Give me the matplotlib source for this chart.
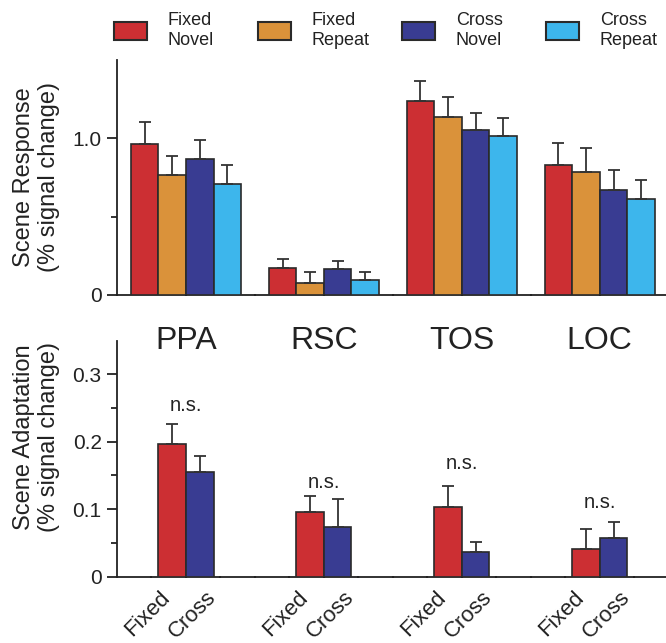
import numpy as np
import matplotlib
matplotlib.use('Agg')
import matplotlib.pyplot as plt
from matplotlib.patches import Patch
from matplotlib.ticker import MultipleLocator, FixedLocator

plt.rcParams['font.family'] = ['Liberation Sans', 'DejaVu Sans']
plt.rcParams['text.color'] = '#222222'
plt.rcParams['axes.labelcolor'] = '#222222'
plt.rcParams['xtick.color'] = '#222222'
plt.rcParams['ytick.color'] = '#222222'

# data
regions = ['PPA', 'RSC', 'TOS', 'LOC']
conditions = ['Fixed\nNovel', 'Fixed\nRepeat', 'Cross\nNovel', 'Cross\nRepeat']
colours = ['#CC2F33', '#DA923A', '#393C92', '#3DB6EC']

fixed_novel = [0.96, 0.174, 1.238, 0.826]
fixed_repeat = [0.764, 0.076, 1.134, 0.786]
cross_novel = [0.864, 0.168, 1.053, 0.671]
cross_repeat = [0.709, 0.097, 1.015, 0.614]
fixed_novel_err = [0.14, 0.057, 0.127, 0.14]
fixed_repeat_err = [0.123, 0.07, 0.129, 0.15]
cross_novel_err = [0.123, 0.05, 0.108, 0.123]
cross_repeat_err = [0.121, 0.049, 0.112, 0.118]

adapt_fixed = [0.196, 0.096, 0.103, 0.041]
adapt_cross = [0.155, 0.073, 0.037, 0.058]
adapt_fixed_err = [0.031, 0.024, 0.032, 0.029]
adapt_cross_err = [0.024, 0.042, 0.015, 0.023]
ns_y = [0.254, 0.14, 0.168, 0.11]
adapt_labels = ['Fixed', 'Cross']

edge = '#2a2a2a'
W, H = 666, 643
fig = plt.figure(figsize=(W / 100, H / 100), dpi=100)

def px_axes(x0, x1, ytop, ybot):
    return fig.add_axes([x0 / W, 1 - ybot / H, (x1 - x0) / W, (ybot - ytop) / H])

ax1 = px_axes(117, 666, 59.5, 295)
ax2 = px_axes(117, 666, 340.5, 576.7)

x = np.arange(len(regions))
bw = 0.2
ekw = dict(ecolor='#333333', elinewidth=1.3, capsize=4, capthick=1.3)

def style(ax):
    for s in ['top', 'right']:
        ax.spines[s].set_visible(False)
    for s in ['left', 'bottom']:
        ax.spines[s].set_linewidth(1.3)
        ax.spines[s].set_color('#222222')
    ax.tick_params(axis='y', which='major', length=7, width=1.3, labelsize=15, pad=4)
    ax.tick_params(axis='y', which='minor', length=4, width=1.3)
    ax.tick_params(axis='x', which='both', length=2, width=1.5, direction='inout')
    ax.set_xlim(-0.5, 3.48)

# top panel
series = [fixed_novel, fixed_repeat, cross_novel, cross_repeat]
errs = [fixed_novel_err, fixed_repeat_err, cross_novel_err, cross_repeat_err]
for i, (vals, e) in enumerate(zip(series, errs)):
    ax1.bar(x + (i - 1.5) * bw, vals, bw, color=colours[i], edgecolor=edge, linewidth=1.2,
            yerr=[np.zeros(4), e], error_kw=ekw, zorder=3)
style(ax1)
ax1.set_ylim(0, 1.5)
ax1.yaxis.set_major_locator(FixedLocator([0, 1.0]))
ax1.set_yticklabels(['0', '1.0'])
ax1.yaxis.set_minor_locator(FixedLocator([0.5]))
ax1.xaxis.set_major_locator(MultipleLocator(0.5))
ax1.set_xticklabels([])
ax1.set_ylabel('Scene Response\n(% signal change)', fontsize=17)
ax1.yaxis.set_label_coords(-0.104, 0.5)

# bottom panel
ax2.bar(x - bw / 2, adapt_fixed, bw, color=colours[0], edgecolor=edge, linewidth=1.2,
        yerr=[np.zeros(4), adapt_fixed_err], error_kw=ekw, zorder=3)
ax2.bar(x + bw / 2, adapt_cross, bw, color=colours[2], edgecolor=edge, linewidth=1.2,
        yerr=[np.zeros(4), adapt_cross_err], error_kw=ekw, zorder=3)
style(ax2)
ax2.set_ylim(0, 0.35)
ax2.yaxis.set_major_locator(FixedLocator([0, 0.1, 0.2, 0.3]))
ax2.set_yticklabels(['0', '0.1', '0.2', '0.3'])
ax2.yaxis.set_minor_locator(FixedLocator([0.05, 0.15, 0.25]))
ax2.xaxis.set_minor_locator(MultipleLocator(0.25))
# label centres sit a little left of the bars, as in the original
ticks = np.concatenate([x - 0.28, x + 0.05])
ax2.set_xticks(ticks)
ax2.set_xticklabels([adapt_labels[0]] * 4 + [adapt_labels[1]] * 4, rotation=45, ha='center', va='center',
                    rotation_mode='anchor', fontsize=16)
ax2.tick_params(axis='x', which='major', length=0, pad=27)
ax2.set_ylabel('Scene Adaptation\n(% signal change)', fontsize=17)
ax2.yaxis.set_label_coords(-0.104, 0.59)

for xi, name, ny in zip(x, regions, ns_y):
    ax2.text(xi, 0.349, name, ha='center', va='center', fontsize=23, clip_on=False)
    ax2.text(xi, ny, 'n.s.', ha='center', va='center', fontsize=14.5)

# legend, one entry per block
for i, (lab, c) in enumerate(zip(conditions, colours)):
    h = Patch(facecolor=c, edgecolor=edge, linewidth=1.5)
    leg = fig.legend([h], [lab], loc='center left', bbox_to_anchor=((114 + i * 144) / W, 1 - 30.5 / H),
                     frameon=False, fontsize=13, handlelength=1.83, handleheight=1.16,
                     handletextpad=1.16, borderpad=0, borderaxespad=0)
    for t in leg.get_texts():
        t.set_linespacing(1.3)
        t.set_multialignment('left')

fig.savefig('out.png', dpi=100)
